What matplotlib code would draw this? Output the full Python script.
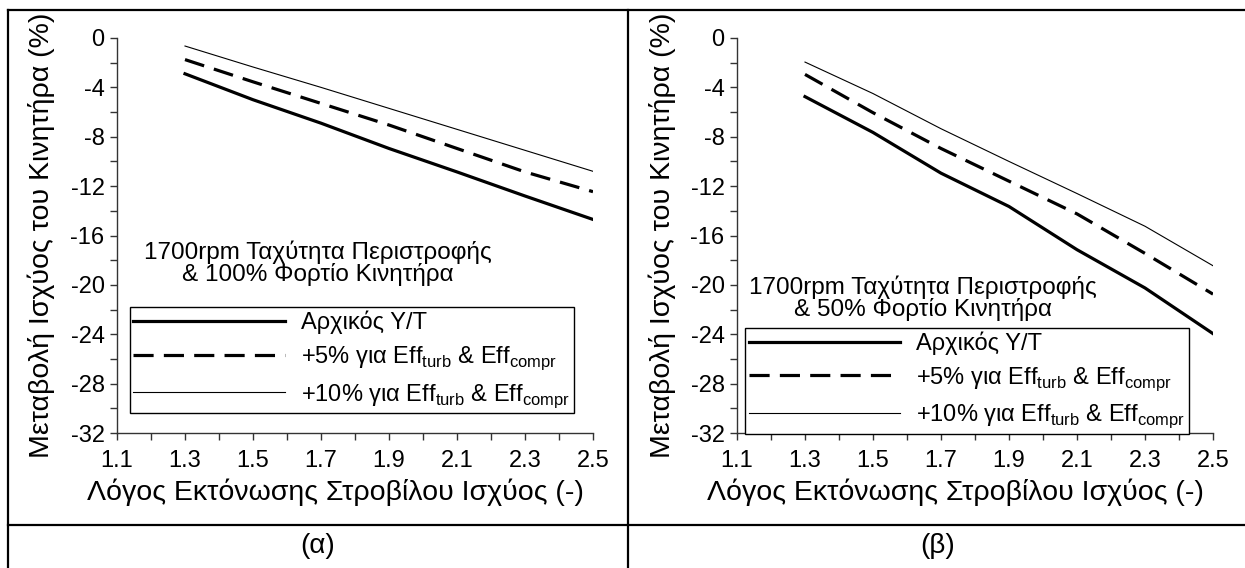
import matplotlib
matplotlib.use("Agg")
import matplotlib.pyplot as plt
from matplotlib.lines import Line2D

plt.rcParams['font.family'] = ['Liberation Sans', 'DejaVu Sans']
plt.rcParams['mathtext.fontset'] = 'custom'
plt.rcParams['mathtext.rm'] = 'Liberation Sans'

pressure_ratio = [1.3, 1.5, 1.7, 1.9, 2.1, 2.3, 2.5]

# (α) 1700rpm & 100% load
a_base = [-2.9, -5.0, -6.9, -8.95, -10.85, -12.8, -14.7]
a_plus5 = [-1.75, -3.55, -5.3, -7.05, -8.95, -10.85, -12.45]
a_plus10 = [-0.65, -2.35, -4.0, -5.7, -7.4, -9.1, -10.8]

# (β) 1700rpm & 50% load
b_base = [-4.75, -7.65, -10.95, -13.65, -17.15, -20.25, -23.95]
b_plus5 = [-2.95, -6.05, -8.95, -11.6, -14.25, -17.45, -20.75]
b_plus10 = [-1.95, -4.5, -7.35, -10.0, -12.6, -15.25, -18.45]

series_labels = ['Αρχικός Υ/Τ',
                 '+5% για Eff$_{\\mathregular{turb}}$ & Eff$_{\\mathregular{compr}}$',
                 '+10% για Eff$_{\\mathregular{turb}}$ & Eff$_{\\mathregular{compr}}$']
annotations = ['1700rpm Ταχύτητα Περιστροφής\n& 100% Φορτίο Κινητήρα',
               '1700rpm Ταχύτητα Περιστροφής\n& 50% Φορτίο Κινητήρα']
captions = ['(α)', '(β)']
xlabel = 'Λόγος Εκτόνωσης Στροβίλου Ισχύος (-)'
ylabel = 'Μεταβολή Ισχύος του Κινητήρα (%)'
xticks = [1.1, 1.3, 1.5, 1.7, 1.9, 2.1, 2.3, 2.5]
yticks = [0, -4, -8, -12, -16, -20, -24, -28, -32]

W, H = 1245, 568
fig = plt.figure(figsize=(W / 100, H / 100), dpi=100)


def fx(px):
    return px / W


def fy(py):
    return 1 - py / H


border_kw = dict(color='black', lw=1.6, transform=fig.transFigure, clip_on=False)
fig.add_artist(Line2D([fx(8), fx(8)], [fy(10), 0], **border_kw))
fig.add_artist(Line2D([fx(8), 1.0], [fy(10), fy(10)], **border_kw))
fig.add_artist(Line2D([fx(628), fx(628)], [fy(10), 0], **border_kw))
fig.add_artist(Line2D([fx(8), 1.0], [fy(525), fy(525)], **border_kw))

fig.text(fx(318), fy(546), captions[0], ha='center', va='center', fontsize=20)
fig.text(fx(938), fy(546), captions[1], ha='center', va='center', fontsize=20)

panels = [
    dict(x0=117, data=(a_base, a_plus5, a_plus10), ann=annotations[0],
         ann_xy=(0.422, 0.43), leg=(0.027, 0.05), ylab=-0.13),
    dict(x0=737, data=(b_base, b_plus5, b_plus10), ann=annotations[1],
         ann_xy=(0.39, 0.342), leg=(0.017, -0.002), ylab=-0.128),
]

top_px, bot_px, width_px = 38, 433, 476
for p in panels:
    ax = fig.add_axes([fx(p['x0']), fy(bot_px), width_px / W, (bot_px - top_px) / H])
    base, p5, p10 = p['data']
    ax.plot(pressure_ratio, base, color='black', lw=2.3, label=series_labels[0],
            solid_joinstyle='round')
    ax.plot(pressure_ratio, p5, color='black', lw=2.3, dashes=(6.3, 3.2),
            label=series_labels[1])
    ax.plot(pressure_ratio, p10, color='black', lw=0.8, label=series_labels[2])
    ax.set_xlim(1.1, 2.5)
    ax.set_ylim(-32, 0)
    ax.set_xticks(xticks)
    ax.set_xticklabels([f'{v:.1f}' for v in xticks])
    ax.set_xticks([1.2, 1.4, 1.6, 1.8, 2.0, 2.2, 2.4], minor=True)
    ax.set_yticks(yticks)
    ax.set_yticklabels([str(v) for v in yticks])
    ax.set_yticks([-2, -6, -10, -14, -18, -22, -26, -30], minor=True)
    for s in ['top', 'right']:
        ax.spines[s].set_visible(False)
    for s in ['left', 'bottom']:
        ax.spines[s].set_color('#333333')
        ax.spines[s].set_linewidth(1.0)
    ax.tick_params(which='both', direction='out', length=5, width=1.0,
                   color='#333333', labelsize=17)
    ax.tick_params(axis='x', pad=7)
    ax.tick_params(axis='y', pad=4)
    ax.set_xlabel(xlabel, fontsize=20.5)
    ax.set_ylabel(ylabel, fontsize=20.5)
    ax.yaxis.set_label_coords(p['ylab'], 0.5)
    ax.xaxis.set_label_coords(0.459, -0.115)
    ax.text(p['ann_xy'][0], p['ann_xy'][1], p['ann'], transform=ax.transAxes,
            ha='center', va='center', fontsize=17.5, linespacing=0.95)
    lx, ly = p['leg']
    leg = ax.legend(loc='lower left', bbox_to_anchor=(lx, ly),
                    borderaxespad=0, fontsize=17,
                    handlelength=6.4, handletextpad=0.7, labelspacing=0.42,
                    fancybox=False, framealpha=1, edgecolor='black',
                    borderpad=0.15)
    leg.get_frame().set_linewidth(1.0)

fig.savefig('out.png', dpi=100)
